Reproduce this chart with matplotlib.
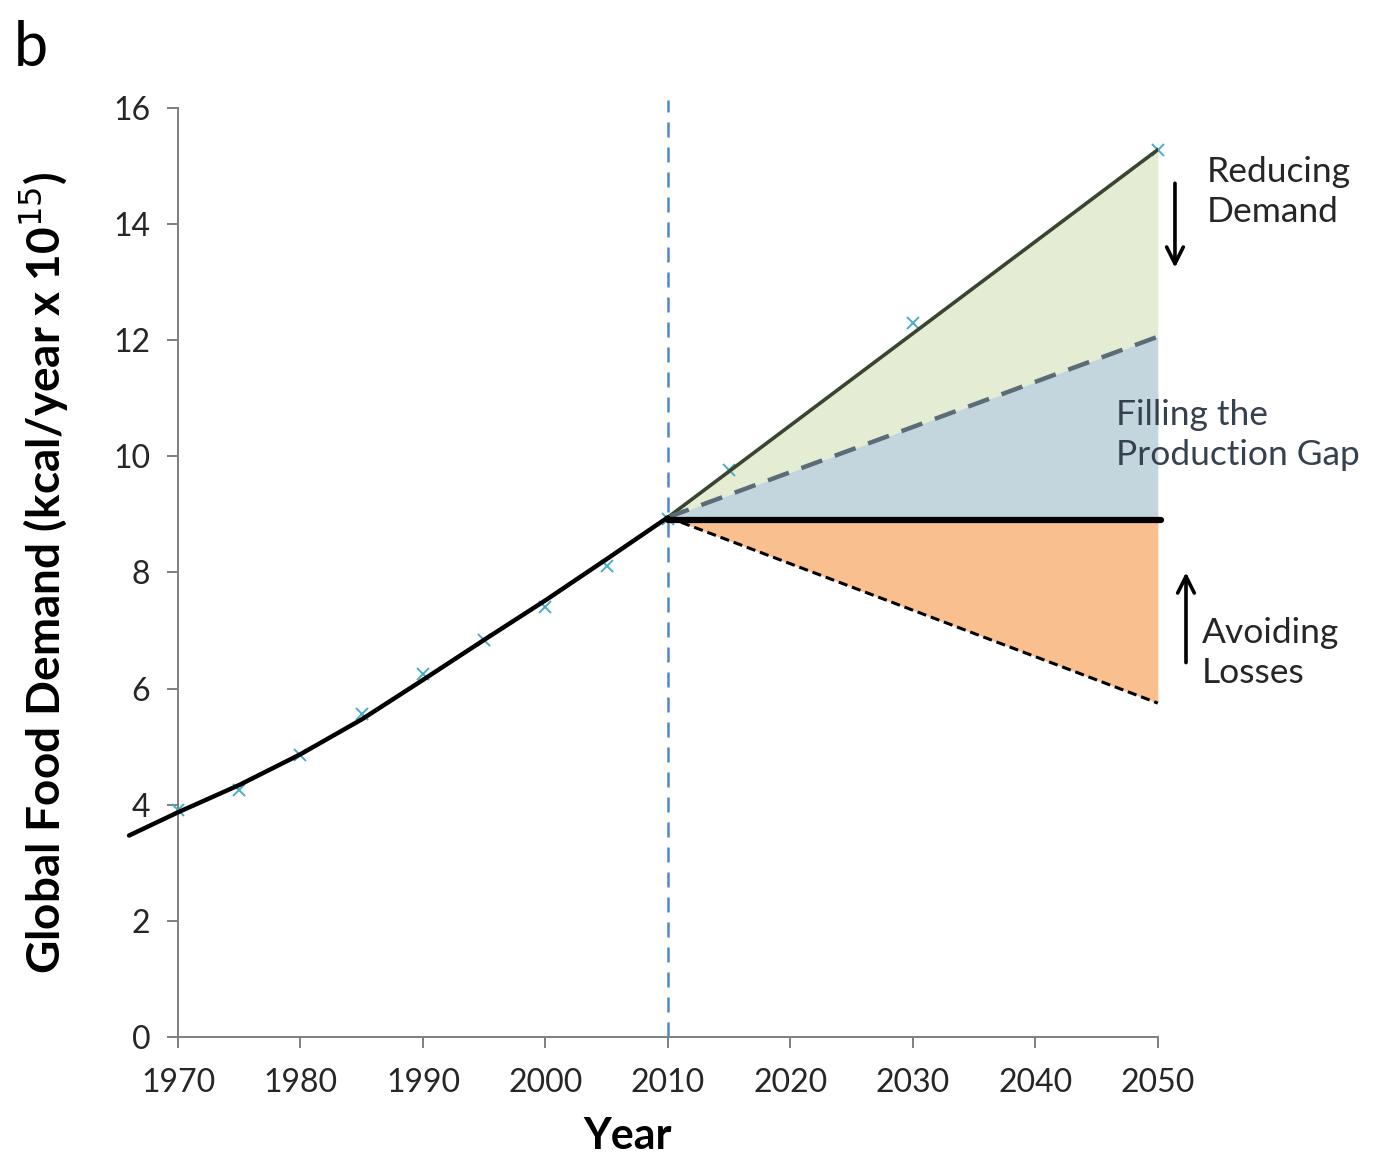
import matplotlib
matplotlib.use("Agg")
import matplotlib.pyplot as plt

plt.rcParams['font.family'] = ['Lato', 'DejaVu Sans']

# historical trend curve
curve_years = [1966, 1970, 1975, 1980, 1985, 1990, 1995, 2000, 2005, 2010]
curve_vals = [3.47, 3.87, 4.34, 4.87, 5.47, 6.15, 6.84, 7.52, 8.23, 8.95]

# data markers
mark_years = [1970, 1975, 1980, 1985, 1990, 1995, 2000, 2005, 2010, 2015, 2030, 2050]
mark_vals = [3.91, 4.26, 4.86, 5.57, 6.26, 6.83, 7.40, 8.11, 8.92, 9.77, 12.30, 15.28]

# projections 2010 -> 2050
proj_years = [2010, 2050]
demand = [8.95, 15.28]
gap = [8.95, 12.06]
current = [8.90, 8.90]
losses = [8.95, 5.75]

fig = plt.figure(figsize=(13.8, 11.6), dpi=100)
ax = fig.add_axes([0.129, 0.106, 0.710, 0.801])

ax.fill_between(proj_years, gap, demand, color='#e4ecd4', lw=0, zorder=1)
ax.fill_between(proj_years, current, gap, color='#c4d6dd', lw=0, zorder=1)
ax.fill_between(proj_years, losses, current, color='#f9bf8e', lw=0, zorder=1)

ax.axvline(2010, ymin=0, ymax=1.008, color='#4f86d0', lw=1.8, ls=(0, (6, 4)), zorder=2, clip_on=False)

ax.plot(proj_years, demand, color='#3a4530', lw=2.6, zorder=4)
ax.plot(proj_years, gap, color='#5c6c76', lw=3.2, ls=(0, (5, 3)), zorder=4)
ax.plot([2010, 2050.3], current, color='black', lw=4.5, solid_capstyle='round', zorder=5, clip_on=False)
ax.plot(proj_years, losses, color='black', lw=2.2, ls=(0, (3, 1.6)), zorder=4, clip_on=False)

ax.plot(curve_years, curve_vals, color='black', lw=3.2, zorder=5, clip_on=False,
        solid_joinstyle='round', solid_capstyle='round')
ax.plot(mark_years, mark_vals, ls='none', marker='x', ms=8, mew=1.4, color='#4bacc6', zorder=3, clip_on=False)

ax.set_xlim(1970, 2050)
ax.set_ylim(0, 16)
ax.set_xticks(range(1970, 2051, 10))
ax.set_yticks(range(0, 17, 2))
for s in ['top', 'right']:
    ax.spines[s].set_visible(False)
for s in ['left', 'bottom']:
    ax.spines[s].set_color('#7f7f7f')
    ax.spines[s].set_linewidth(1.4)
ax.tick_params(direction='out', length=8, width=1.4, color='#7f7f7f', labelsize=23, labelcolor='#262626')
ax.tick_params(axis='x', pad=14)
ax.tick_params(axis='y', pad=12)

ax.set_xlabel('Year', fontsize=31, fontweight='bold', labelpad=16)
ax.xaxis.set_label_coords(0.459, -0.085)
ax.set_ylabel('Global Food Demand (kcal/year x 10$^{15}$)', fontsize=33, fontweight='bold', labelpad=30)

# arrows and labels on the right
ax.annotate('', xy=(2051.4, 13.2), xytext=(2051.4, 14.75), xycoords='data',
            arrowprops=dict(arrowstyle='->', lw=2.6, color='black', mutation_scale=30), annotation_clip=False)
ax.annotate('', xy=(2052.3, 8.05), xytext=(2052.3, 6.4), xycoords='data',
            arrowprops=dict(arrowstyle='->', lw=2.6, color='black', mutation_scale=30), annotation_clip=False)

ax.text(2054.0, 14.55, 'Reducing\nDemand', fontsize=25.5, va='center', ha='left', color='#262626', linespacing=1.3)
ax.text(2046.6, 10.37, 'Filling the\nProduction Gap', fontsize=25.5, va='center', ha='left', color='#35414f', linespacing=1.3, zorder=6)
ax.text(2053.6, 6.62, 'Avoiding\nLosses', fontsize=25.5, va='center', ha='left', color='#262626', linespacing=1.3)

fig.text(0.010, 0.958, 'b', fontsize=44, ha='left', va='center')

fig.savefig('out.png', dpi=100)
